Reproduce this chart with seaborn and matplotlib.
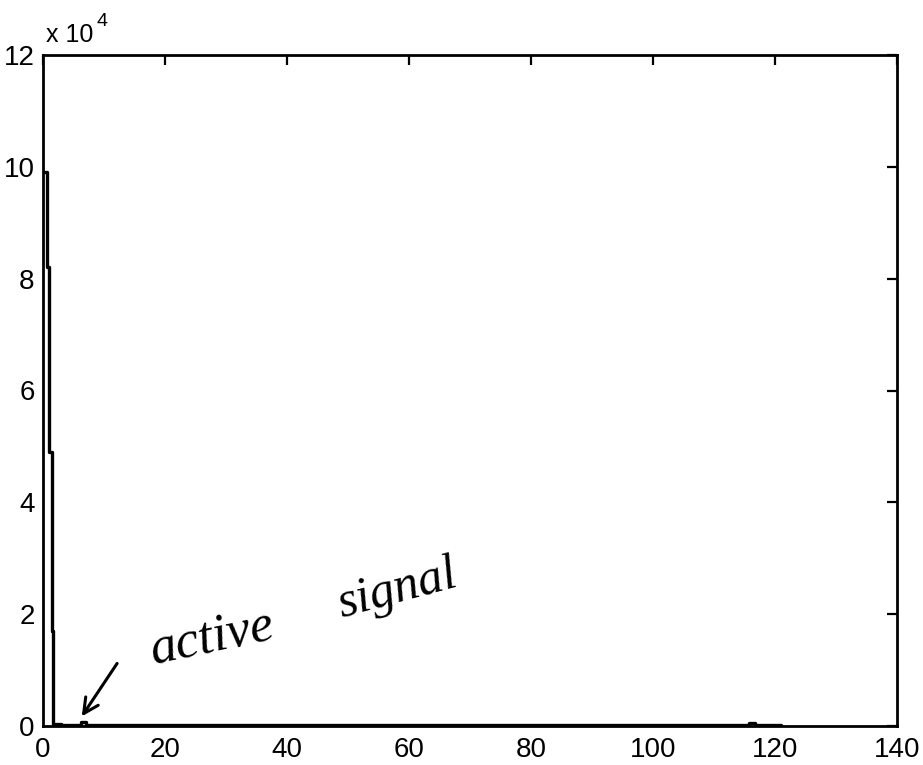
import matplotlib
matplotlib.use("Agg")
import matplotlib.pyplot as plt
import seaborn as sns
import numpy as np
import pandas as pd

# Spectrum magnitude: large DC component, then near-zero floor with two small peaks
freq = [0.0, 0.6, 1.0, 1.5, 1.7, 3.0, 5.6, 6.2, 7.0, 8.0, 60.0, 115.2, 115.8, 116.8, 121.0]
amp = [99000, 82000, 49000, 17000, 300, 250, 250, 700, 250, 200, 150, 150, 600, 150, 150]

x_ticks = [0, 20, 40, 60, 80, 100, 120, 140]
y_ticks = [0, 20000, 40000, 60000, 80000, 100000, 120000]
y_tick_labels = ["0", "2", "4", "6", "8", "10", "12"]

sns.set_theme(style="white")
plt.rcParams["font.family"] = ["Liberation Sans Narrow", "Liberation Sans", "DejaVu Sans"]

fig = plt.figure(figsize=(9.23, 7.65), dpi=100)
fig.patch.set_facecolor("white")
ax = fig.add_axes([43 / 923, 1 - 726 / 765, (897 - 43) / 923, (726 - 55) / 765])
ax.set_facecolor("white")

df = pd.DataFrame({"freq": freq, "amp": amp})
sns.lineplot(data=df, x="freq", y="amp", ax=ax, color="black", linewidth=2.4,
             drawstyle="steps-post", estimator=None, sort=False)

ax.set_xlim(0, 140)
ax.set_ylim(0, 120000)
ax.set_xticks(x_ticks)
ax.set_xticklabels([str(t) for t in x_ticks])
ax.set_yticks(y_ticks)
ax.set_yticklabels(y_tick_labels)
ax.set_xlabel("")
ax.set_ylabel("")

for side in ["left", "right", "top", "bottom"]:
    ax.spines[side].set_visible(True)
    ax.spines[side].set_color("black")
    ax.spines[side].set_linewidth(2.0)

ax.tick_params(axis="both", which="both", direction="in", length=7, width=1.6,
               colors="black", labelsize=20, top=True, right=True,
               labeltop=False, labelright=False)
ax.tick_params(axis="x", pad=8)
ax.tick_params(axis="y", pad=6)

# Exponent label for the y axis
ax.text(0.003, 1.012, "x 10", transform=ax.transAxes, ha="left", va="bottom",
        fontsize=18, color="black")
ax.text(0.063, 1.037, "4", transform=ax.transAxes, ha="left", va="bottom",
        fontsize=14, color="black")

# Hand-written note pointing at the small peak
ax.annotate("", xy=(6.1, 1300), xytext=(12.4, 11600),
            arrowprops=dict(arrowstyle="->,head_length=0.9,head_width=0.45",
                            color="black", lw=2.2))
ax.text(18.0, 11000, "active", rotation=12, rotation_mode="anchor",
        ha="left", va="baseline", fontsize=38, fontstyle="italic",
        family=["Liberation Serif", "DejaVu Serif"], color="black")
ax.text(49.0, 19500, "signal", rotation=15, rotation_mode="anchor",
        ha="left", va="baseline", fontsize=36, fontstyle="italic",
        family=["Liberation Serif", "DejaVu Serif"], color="black")

fig.savefig("out.png", dpi=100, facecolor="white")
